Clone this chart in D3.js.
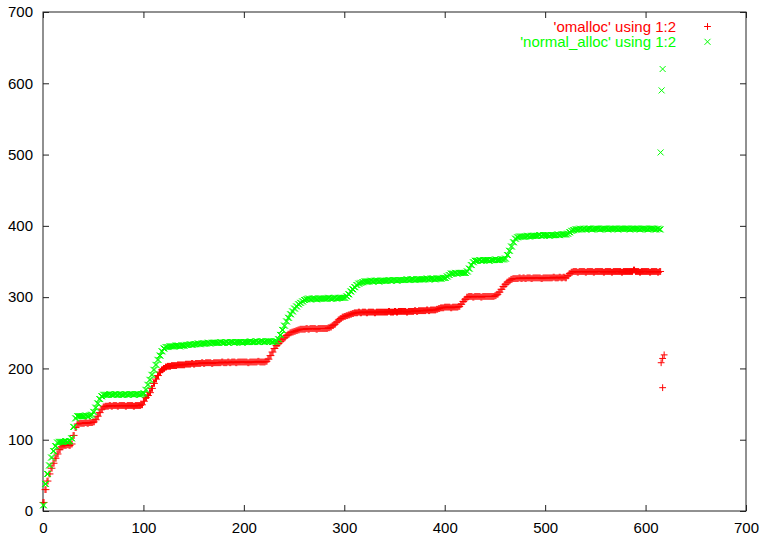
<!DOCTYPE html>
<html><head><meta charset="utf-8">
<script src="https://cdn.jsdelivr.net/npm/d3@7"></script>
<style>body{margin:0;background:#fff}svg{display:block}</style>
</head><body>
<svg id="c" width="761" height="539"></svg>
<script>
// ---- data ----
const xTicks = [0, 100, 200, 300, 400, 500, 600, 700];
const yTicks = [0, 100, 200, 300, 400, 500, 600, 700];
const seriesNames = ["'omalloc' using 1:2", "'normal_alloc' using 1:2"];
const xStep = 2; // samples every 2 x-units, starting at x = 0
const omalloc = [
 12,30,42,52,60,67,74,80,86,90,
 92,92,93,92,94,106,117,122,123,123,
 123,124,123,124,124,125,128,133,138,143,
 146,147,147,148,147,148,148,147,148,148,
 148,147,148,148,148,147,148,148,148,149,
 154,159,162,166,172,179,185,190,195,198,
 200,202,203,203,204,204,204,205,205,205,
 205,206,206,206,207,206,207,207,207,208,
 207,208,208,208,207,208,208,208,208,209,
 208,208,209,208,209,209,208,209,209,209,
 209,209,208,209,209,209,209,210,209,209,
 209,210,213,218,223,228,232,235,238,241,
 243,246,248,250,251,252,253,254,255,255,
 255,256,255,256,256,256,255,256,256,256,
 256,256,257,258,260,262,265,268,270,272,
 273,274,275,276,277,278,278,279,278,279,
 279,278,279,279,279,278,279,279,279,279,
 279,279,280,279,279,280,279,280,280,280,
 280,279,280,280,280,281,280,281,281,281,
 281,282,281,282,282,282,283,284,285,285,
 286,286,286,285,286,286,286,287,290,294,
 297,300,301,301,300,301,301,301,300,301,
 301,301,301,301,301,302,304,307,311,315,
 318,321,323,325,326,326,326,327,326,327,
 326,327,327,326,327,327,327,327,326,327,
 327,327,327,327,328,327,327,328,327,328,
 327,330,333,335,336,336,335,336,336,336,
 335,336,336,336,335,336,336,336,336,335,
 336,336,336,335,336,336,336,336,335,336,
 336,336,336,336,338,336,336,335,336,336,
 336,336,335,336,336,336,335,336
];
const normalAlloc = [
 8,38,52,64,75,84,91,96,97,97,
 97,98,97,98,102,118,130,133,133,133,
 133,134,133,134,135,139,145,151,157,161,
 163,163,163,164,163,163,164,163,164,163,
 163,164,163,164,164,163,164,164,163,164,
 165,170,177,184,191,198,205,212,218,224,
 228,230,230,231,231,231,232,232,231,232,
 232,233,233,234,233,234,234,235,234,235,
 235,235,236,235,236,236,236,236,237,236,
 236,237,236,237,237,236,237,237,237,236,
 237,237,237,238,237,237,238,237,238,238,
 237,238,238,238,237,238,238,241,247,254,
 260,266,271,276,280,284,287,290,292,294,
 296,297,298,297,298,298,297,298,298,298,
 298,298,299,298,298,299,298,299,299,299,
 299,301,304,308,311,314,317,319,320,321,
 322,322,322,323,322,323,323,322,323,323,
 323,323,324,323,324,324,323,324,324,324,
 324,325,324,325,325,324,325,325,325,325,
 325,326,325,326,326,325,326,326,326,327,
 327,329,331,333,333,334,333,334,334,334,
 334,336,340,345,349,351,351,352,351,352,
 352,352,351,352,352,353,352,352,353,353,
 354,359,365,371,377,382,384,385,385,385,
 385,386,385,386,386,386,386,387,386,387,
 387,387,386,387,387,387,388,387,388,388,
 388,389,391,393,394,395,395,396,395,396,
 395,396,396,395,396,396,396,395,396,396,
 396,395,396,396,396,396,395,396,396,396,
 396,396,395,396,396,396,396,395,396,396,
 396,395,396,396,396,395,396,395
];
const omallocExtra = [[615.5, 208], [617, 214], [618.5, 219], [617, 173]];
const normalExtra = [[615, 503], [616, 590], [617, 620]];
const colors = ["#ff0000", "#00ff00"];

// ---- chart ----
const svg = d3.select("#c");
const L = 43, R = 746, T = 12, B = 511;
const x = d3.scaleLinear().domain([0, 700]).range([L, R]);
const y = d3.scaleLinear().domain([0, 700]).range([B, T]);
const font = "'Liberation Sans', Arial, Helvetica, sans-serif";

const toPts = (arr) => arr.map((v, i) => [i * xStep, v]);
const redPts = toPts(omalloc);
const greenPts = toPts(normalAlloc);

const plusPath = "M-3.4,0H3.4M0,-3.4V3.4";
const crossPath = "M-3,-3L3,3M-3,3L3,-3";
// dense-series glyphs: the same marker smeared over the 2-unit sample step
const plusWide = "M-3.4,0H4.4M0,-3.4V3.4M1,-3.4V3.4";
const crossWide = "M-3,-3L3,3M-3,3L3,-3M-2,-3L4,3M-2,3L4,-3";

// frame
svg.append("rect").attr("x", L).attr("y", T).attr("width", R - L).attr("height", B - T)
  .attr("fill", "none").attr("stroke", "#222").attr("stroke-width", 1);

function styleAxis(g) {
  g.select(".domain").remove();
  g.selectAll(".tick line").attr("stroke", "#222");
  g.selectAll("text").attr("font-family", font).attr("font-size", 15).attr("fill", "#000");
}
svg.append("g").attr("transform", `translate(0,${B})`)
  .call(d3.axisBottom(x).tickValues(xTicks).tickSizeInner(-6).tickSizeOuter(0).tickPadding(11))
  .call(styleAxis);
svg.append("g").attr("transform", `translate(0,${T})`)
  .call(d3.axisTop(x).tickValues(xTicks).tickSizeInner(-6).tickSizeOuter(0).tickFormat(""))
  .call(styleAxis);
svg.append("g").attr("transform", `translate(${L},0)`)
  .call(d3.axisLeft(y).tickValues(yTicks).tickSizeInner(-6).tickSizeOuter(0).tickPadding(10))
  .call(styleAxis);
svg.append("g").attr("transform", `translate(${R},0)`)
  .call(d3.axisRight(y).tickValues(yTicks).tickSizeInner(-6).tickSizeOuter(0).tickFormat(""))
  .call(styleAxis);

// points
const gp = svg.append("g").attr("fill", "none").attr("stroke-width", 1);
gp.selectAll("path.r").data(redPts).join("path").attr("class", "r")
  .attr("transform", d => `translate(${x(d[0])},${y(d[1])})`)
  .attr("d", plusWide).attr("stroke", colors[0]);
gp.selectAll("path.re").data(omallocExtra).join("path").attr("class", "re")
  .attr("transform", d => `translate(${x(d[0])},${y(d[1])})`)
  .attr("d", plusPath).attr("stroke", colors[0]);
gp.selectAll("path.g").data(greenPts).join("path").attr("class", "g")
  .attr("transform", d => `translate(${x(d[0])},${y(d[1])})`)
  .attr("d", crossWide).attr("stroke", colors[1]);
gp.selectAll("path.ge").data(normalExtra).join("path").attr("class", "ge")
  .attr("transform", d => `translate(${x(d[0])},${y(d[1])})`)
  .attr("d", crossPath).attr("stroke", colors[1]);

// legend
const leg = svg.append("g");
[0, 1].forEach(i => {
  const yy = 26.5 + i * 15.3;
  leg.append("text").attr("x", 676).attr("y", yy).attr("dy", "0.35em")
    .attr("text-anchor", "end").attr("font-family", font).attr("font-size", 15)
    .attr("fill", colors[i]).text(seriesNames[i]);
  leg.append("path").attr("transform", `translate(707.5,${yy})`)
    .attr("d", i === 0 ? plusPath : crossPath).attr("fill", "none")
    .attr("stroke", colors[i]).attr("stroke-width", 1);
});
</script>
</body></html>
